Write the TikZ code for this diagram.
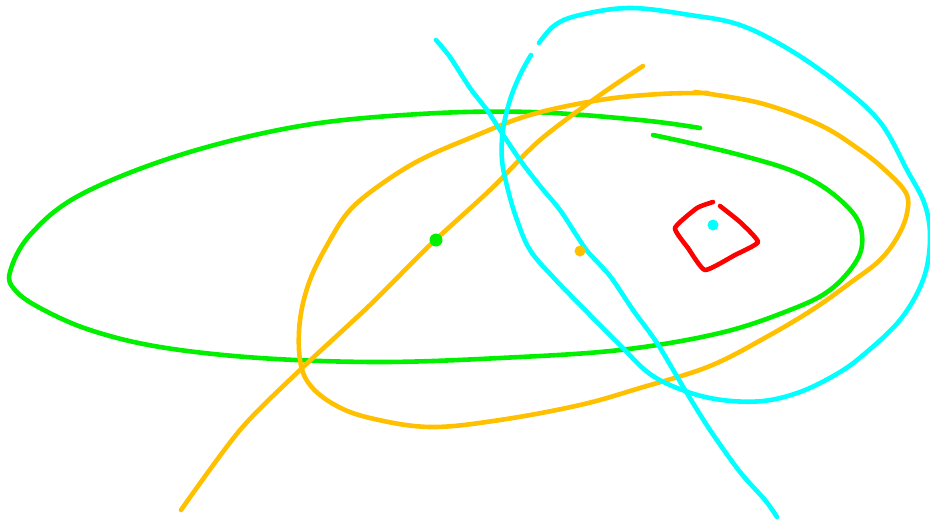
\documentclass[tikz,border=0pt]{standalone}
\definecolor{sgreen}{RGB}{0,240,0}
\definecolor{sorange}{RGB}{255,192,0}
\definecolor{scyan}{RGB}{0,255,255}
\definecolor{sred}{RGB}{255,0,0}
\begin{document}
\begin{tikzpicture}[x=1pt,y=-1pt,
  stroke/.style={line width=4.6pt,line cap=round,line join=round},
  gr/.style={stroke,draw=sgreen},
  og/.style={stroke,draw=sorange},
  cy/.style={stroke,draw=scyan},
  rd/.style={stroke,draw=sred}]
\useasboundingbox (0,0) rectangle (930,523);
% green ellipse
\draw[gr] plot[smooth,tension=0.6] coordinates {(700,128) (640,120) (530,112) (420,114) (300,126) (180,155) (80,195) (30,235) (10,272) (15,290) (40,308) (90,330) (160,347) (260,358) (380,362) (500,358) (620,350) (720,333) (790,310) (830,290) (857,260) (862,235) (853,213) (825,188) (790,170) (740,155) (690,143) (653,135)};
% orange loop
\draw[og] plot[smooth,tension=0.6] coordinates {(695,92) (760,103) (820,125) (860,150) (885,170) (906,193) (907,213) (898,236) (880,260) (850,283) (815,308) (770,335) (710,366) (640,388) (580,405) (500,420) (430,427) (370,418) (335,405) (310,385) (300,360) (300,320) (310,280) (330,240) (350,210) (380,185) (420,160) (470,138) (530,115) (600,100) (660,94) (708,93)};
% orange line
\draw[og] plot[smooth,tension=0.5] coordinates {(181,510) (240,430) (300,370) (370,305) (430,245) (490,190) (540,140) (600,95) (643,66)};
% cyan line
\draw[cy] plot[smooth,tension=0.5] coordinates {(436,40) (450,57) (470,88) (487,110) (500,130) (520,160) (540,186) (560,210) (577,236) (588,252) (610,276) (633,310) (657,343) (685,390) (710,430) (740,472) (765,500) (777,517)};
% cyan loop
\draw[cy] plot[smooth,tension=0.6] coordinates {(531,55) (520,75) (510,100) (503,130) (502,160) (508,190) (517,220) (530,250) (553,277) (590,315) (620,345) (650,374) (685,391) (722,400) (763,401) (800,392) (835,375) (862,356) (900,320) (923,280) (930,240) (925,205) (907,170) (880,122) (840,85) (790,50) (740,25) (690,15) (630,8) (580,15) (555,25) (539,43)};
% red quad
\draw[rd] plot[smooth,tension=0.3] coordinates {(713,202) (697,208) (675,228) (688,248) (705,270) (735,255) (758,242) (740,222) (720,206)};
% dots
\fill[sgreen] (436,240) circle (6.5);
\fill[sorange] (580,251) circle (5.5);
\fill[scyan] (713,225) circle (5.5);
\end{tikzpicture}
\end{document}
